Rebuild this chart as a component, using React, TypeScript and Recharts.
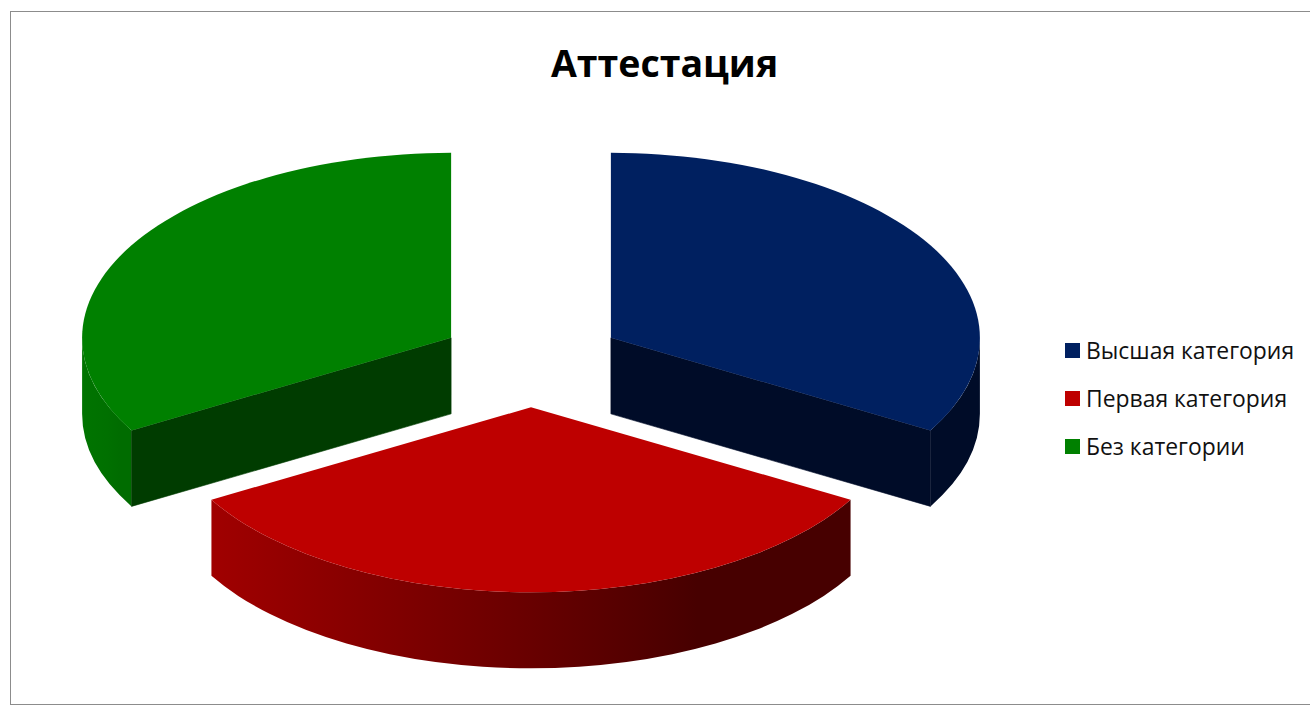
import { Legend, Pie, PieChart } from "recharts"

const categories = ["Высшая категория", "Первая категория", "Без категории"]
const values = [33.3, 33.3, 33.3]

const topColors = ["#002060", "#be0000", "#008000"]
const cutColors = ["#000c28", "#4a0000", "#003c00"]
const wallStops = [
  ["#000c28", "#000c28", "#000c28"],
  ["#a00000", "#680000", "#470000"],
  ["#007400", "#007000", "#006c00"],
]

const data = categories.map((name, i) => ({ name, value: values[i], fill: topColors[i], index: i }))

const SQUASH = 0.5014
const DEPTH = 76
const EXPLODE = 0.25
const EPS = 0.001
const rad = (a: number) => (a * Math.PI) / 180

function Slice3D(props: any) {
  const { cx, cy, outerRadius: r, startAngle, endAngle, index } = props
  const mid = rad((startAngle + endAngle) / 2)
  const ox = cx + r * EXPLODE * Math.cos(mid)
  const oy = cy - r * SQUASH * EXPLODE * Math.sin(mid)
  const rx = r
  const ry = r * SQUASH
  const px = (a: number) => ox + rx * Math.cos(rad(a))
  const py = (a: number) => oy - ry * Math.sin(rad(a))

  const large = startAngle - endAngle > 180 ? 1 : 0
  const top = `M${ox},${oy} L${px(startAngle)},${py(startAngle)} A${rx},${ry} 0 ${large} 1 ${px(endAngle)},${py(endAngle)} Z`

  const cut = (a: number) =>
    `M${ox},${oy} L${px(a)},${py(a)} L${px(a)},${py(a) + DEPTH} L${ox},${oy + DEPTH} Z`
  const startVisible = Math.cos(rad(startAngle)) < -EPS
  const endVisible = Math.cos(rad(endAngle)) > EPS

  // the outer wall only shows on the front half of the ellipse
  const wallFrom = Math.min(startAngle, 0)
  const wallTo = Math.max(endAngle, -180)
  const gradientId = `wall-${index}`
  const stops = wallStops[index]

  return (
    <g>
      <defs>
        <linearGradient id={gradientId} gradientUnits="userSpaceOnUse" x1={px(wallTo)} x2={px(wallFrom)} y1={0} y2={0}>
          <stop offset="0" stopColor={stops[0]} />
          <stop offset="0.5" stopColor={stops[1]} />
          <stop offset="0.76" stopColor={stops[2]} />
          <stop offset="1" stopColor={stops[2]} />
        </linearGradient>
      </defs>
      {wallFrom > wallTo && (
        <path
          d={`M${px(wallFrom)},${py(wallFrom)} A${rx},${ry} 0 0 1 ${px(wallTo)},${py(wallTo)} L${px(wallTo)},${py(wallTo) + DEPTH} A${rx},${ry} 0 0 0 ${px(wallFrom)},${py(wallFrom) + DEPTH} Z`}
          fill={`url(#${gradientId})`}
        />
      )}
      {startVisible && <path d={cut(startAngle)} fill={cutColors[index]} stroke={cutColors[index]} strokeWidth={0.6} />}
      {endVisible && <path d={cut(endAngle)} fill={cutColors[index]} stroke={cutColors[index]} strokeWidth={0.6} />}
      <path d={top} fill={topColors[index]} />
    </g>
  )
}

function LegendList(props: any) {
  return (
    <div>
      {props.payload.map((entry: any) => (
        <div key={entry.value} style={{ display: "flex", alignItems: "center", height: 48 }}>
          <span style={{ width: 15, height: 15, marginRight: 6, background: entry.color }} />
          <span style={{ fontSize: 22.9, color: "#111", whiteSpace: "nowrap" }}>{entry.value}</span>
        </div>
      ))}
    </div>
  )
}

export default function App() {
  return (
    <div style={{ position: "absolute", left: 0, top: 0, width: 1310, height: 709, overflow: "hidden", background: "#fff", fontFamily: "'Open Sans', sans-serif" }}>
      <div style={{ position: "absolute", left: 10, top: 11, width: 1400, height: 692, border: "1px solid #8c8c8c" }} />
      <div style={{ position: "absolute", left: 0, top: 36, width: 1329, textAlign: "center", fontSize: 37.5, fontWeight: 700, lineHeight: "54px", color: "#000" }}>
        Аттестация
      </div>
      <div style={{ position: "absolute", left: 0, top: 0 }}>
        <PieChart width={1310} height={709} margin={{ top: 0, right: 0, bottom: 0, left: 0 }}>
          <Pie
            data={data}
            dataKey="value"
            nameKey="name"
            cx={531}
            cy={361}
            outerRadius={369}
            startAngle={90}
            endAngle={-270}
            stroke="none"
            shape={Slice3D}
            isAnimationActive={false}
          />
          <Legend
            layout="vertical"
            content={LegendList}
            itemSorter={null}
            wrapperStyle={{ position: "absolute", left: 1065, top: 326, width: 240, bottom: "auto" }}
          />
        </PieChart>
      </div>
    </div>
  )
}
